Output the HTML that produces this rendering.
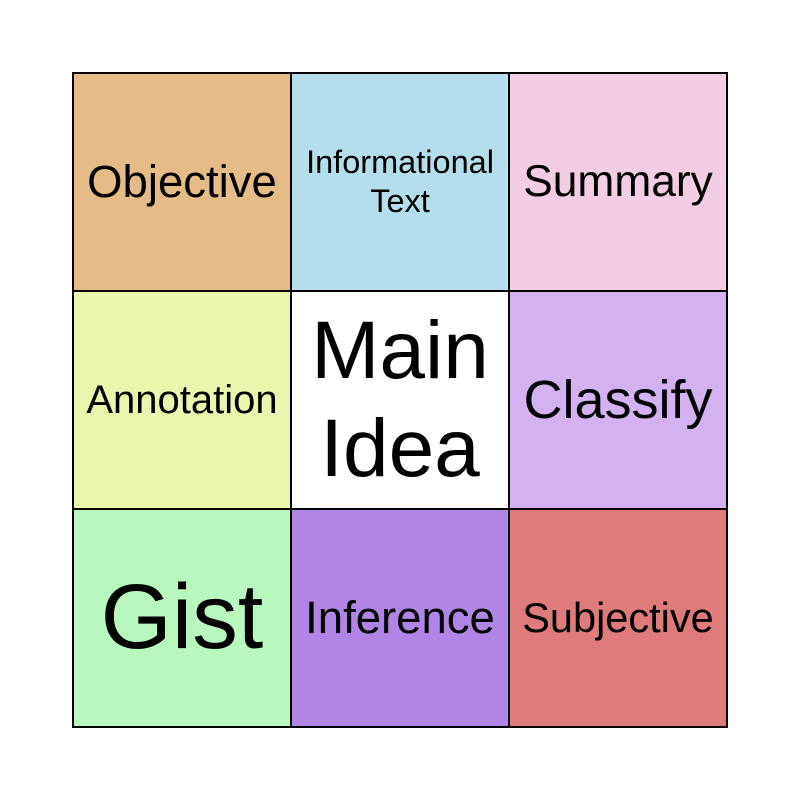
<!DOCTYPE html>
<html><head><style>
body{margin:0;width:800px;height:800px;background:#fff;position:relative;font-family:"Liberation Sans",Arial,sans-serif;}
.g{position:absolute;left:72px;top:72px;width:656px;height:656px;display:grid;grid-template-columns:repeat(3,1fr);grid-template-rows:repeat(3,1fr);border:1px solid #000;box-sizing:border-box;}
.c{border:1px solid #000;display:flex;align-items:center;justify-content:center;text-align:center;color:#000;line-height:1.2;}
</style></head><body>
<div class="g">
<div class="c" style="background:#E5BC87;font-size:45.5px">Objective</div>
<div class="c" style="background:#B4DEEC;font-size:32.5px">Informational<br>Text</div>
<div class="c" style="background:#F3CDE4;font-size:44.3px">Summary</div>
<div class="c" style="background:#EAF5AD;font-size:40px">Annotation</div>
<div class="c" style="background:#FFFFFF;font-size:82px">Main<br>Idea</div>
<div class="c" style="background:#D4B2F1;font-size:54px">Classify</div>
<div class="c" style="background:#B8F8BF;font-size:91.5px">Gist</div>
<div class="c" style="background:#B085E6;font-size:45.5px">Inference</div>
<div class="c" style="background:#DF7B7A;font-size:41.5px">Subjective</div>
</div>
</body></html>
